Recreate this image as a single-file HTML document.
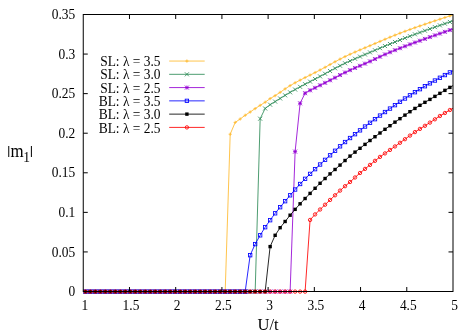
<!DOCTYPE html>
<html><head><meta charset="utf-8"><title>plot</title>
<style>
html,body{margin:0;padding:0;background:#fff;}
svg{display:block;will-change:transform}
text{font-family:"Liberation Serif",serif;font-size:14.3px;fill:#000}
</style></head>
<body>
<svg width="464" height="334" viewBox="0 0 464 334">
<rect width="464" height="334" fill="#fff"/>
<defs><clipPath id="clip"><rect x="83.25" y="14.5" width="369.75" height="280.0"/></clipPath></defs>
<g clip-path="url(#clip)" stroke-width="0.85">
<path d="M85.40 291.60 L90.39 291.60 L95.39 291.60 L100.38 291.60 L105.37 291.60 L110.37 291.60 L115.36 291.60 L120.35 291.60 L125.34 291.60 L130.34 291.60 L135.33 291.60 L140.32 291.60 L145.32 291.60 L150.31 291.60 L155.30 291.60 L160.30 291.60 L165.29 291.60 L170.28 291.60 L175.27 291.60 L180.27 291.60 L185.26 291.60 L190.25 291.60 L195.25 291.60 L200.24 291.60 L205.23 291.60 L210.23 291.60 L215.22 291.60 L220.21 291.60 L225.20 291.60 L230.20 134.20 L235.19 122.40 L240.18 119.00 L245.18 115.25 L250.17 112.00 L255.16 108.60 L260.16 105.35 L265.15 102.20 L270.14 98.60 L275.13 95.66 L280.13 92.35 L285.12 88.88 L290.11 85.65 L295.11 82.80 L300.10 80.13 L305.09 77.58 L310.09 75.09 L315.08 72.58 L320.07 70.00 L325.06 67.30 L330.06 64.53 L335.05 61.78 L340.04 59.11 L345.04 56.60 L350.03 54.27 L355.02 52.06 L360.01 49.92 L365.01 47.81 L370.00 45.70 L374.99 43.56 L379.99 41.41 L384.98 39.28 L389.97 37.19 L394.97 35.15 L399.96 33.20 L404.95 31.32 L409.95 29.49 L414.94 27.70 L419.93 25.95 L424.92 24.22 L429.92 22.53 L434.91 20.85 L439.90 19.20 L444.90 17.55 L449.89 15.90 L454.88 14.30" stroke="#FFB92D" fill="none" stroke-linejoin="round"/>
<path d="M83.80 291.60H87.00M85.40 290.00V293.20" stroke="#FFB92D" fill="none"/>
<path d="M88.79 291.60H91.99M90.39 290.00V293.20" stroke="#FFB92D" fill="none"/>
<path d="M93.79 291.60H96.99M95.39 290.00V293.20" stroke="#FFB92D" fill="none"/>
<path d="M98.78 291.60H101.98M100.38 290.00V293.20" stroke="#FFB92D" fill="none"/>
<path d="M103.77 291.60H106.97M105.37 290.00V293.20" stroke="#FFB92D" fill="none"/>
<path d="M108.77 291.60H111.97M110.37 290.00V293.20" stroke="#FFB92D" fill="none"/>
<path d="M113.76 291.60H116.96M115.36 290.00V293.20" stroke="#FFB92D" fill="none"/>
<path d="M118.75 291.60H121.95M120.35 290.00V293.20" stroke="#FFB92D" fill="none"/>
<path d="M123.74 291.60H126.94M125.34 290.00V293.20" stroke="#FFB92D" fill="none"/>
<path d="M128.74 291.60H131.94M130.34 290.00V293.20" stroke="#FFB92D" fill="none"/>
<path d="M133.73 291.60H136.93M135.33 290.00V293.20" stroke="#FFB92D" fill="none"/>
<path d="M138.72 291.60H141.92M140.32 290.00V293.20" stroke="#FFB92D" fill="none"/>
<path d="M143.72 291.60H146.92M145.32 290.00V293.20" stroke="#FFB92D" fill="none"/>
<path d="M148.71 291.60H151.91M150.31 290.00V293.20" stroke="#FFB92D" fill="none"/>
<path d="M153.70 291.60H156.90M155.30 290.00V293.20" stroke="#FFB92D" fill="none"/>
<path d="M158.70 291.60H161.90M160.30 290.00V293.20" stroke="#FFB92D" fill="none"/>
<path d="M163.69 291.60H166.89M165.29 290.00V293.20" stroke="#FFB92D" fill="none"/>
<path d="M168.68 291.60H171.88M170.28 290.00V293.20" stroke="#FFB92D" fill="none"/>
<path d="M173.67 291.60H176.87M175.27 290.00V293.20" stroke="#FFB92D" fill="none"/>
<path d="M178.67 291.60H181.87M180.27 290.00V293.20" stroke="#FFB92D" fill="none"/>
<path d="M183.66 291.60H186.86M185.26 290.00V293.20" stroke="#FFB92D" fill="none"/>
<path d="M188.65 291.60H191.85M190.25 290.00V293.20" stroke="#FFB92D" fill="none"/>
<path d="M193.65 291.60H196.85M195.25 290.00V293.20" stroke="#FFB92D" fill="none"/>
<path d="M198.64 291.60H201.84M200.24 290.00V293.20" stroke="#FFB92D" fill="none"/>
<path d="M203.63 291.60H206.83M205.23 290.00V293.20" stroke="#FFB92D" fill="none"/>
<path d="M208.63 291.60H211.83M210.23 290.00V293.20" stroke="#FFB92D" fill="none"/>
<path d="M213.62 291.60H216.82M215.22 290.00V293.20" stroke="#FFB92D" fill="none"/>
<path d="M218.61 291.60H221.81M220.21 290.00V293.20" stroke="#FFB92D" fill="none"/>
<path d="M223.60 291.60H226.80M225.20 290.00V293.20" stroke="#FFB92D" fill="none"/>
<path d="M228.60 134.20H231.80M230.20 132.60V135.80" stroke="#FFB92D" fill="none"/>
<path d="M233.59 122.40H236.79M235.19 120.80V124.00" stroke="#FFB92D" fill="none"/>
<path d="M238.58 119.00H241.78M240.18 117.40V120.60" stroke="#FFB92D" fill="none"/>
<path d="M243.58 115.25H246.78M245.18 113.65V116.85" stroke="#FFB92D" fill="none"/>
<path d="M248.57 112.00H251.77M250.17 110.40V113.60" stroke="#FFB92D" fill="none"/>
<path d="M253.56 108.60H256.76M255.16 107.00V110.20" stroke="#FFB92D" fill="none"/>
<path d="M258.56 105.35H261.76M260.16 103.75V106.95" stroke="#FFB92D" fill="none"/>
<path d="M263.55 102.20H266.75M265.15 100.60V103.80" stroke="#FFB92D" fill="none"/>
<path d="M268.54 98.60H271.74M270.14 97.00V100.20" stroke="#FFB92D" fill="none"/>
<path d="M273.53 95.66H276.73M275.13 94.06V97.26" stroke="#FFB92D" fill="none"/>
<path d="M278.53 92.35H281.73M280.13 90.75V93.95" stroke="#FFB92D" fill="none"/>
<path d="M283.52 88.88H286.72M285.12 87.28V90.48" stroke="#FFB92D" fill="none"/>
<path d="M288.51 85.65H291.71M290.11 84.05V87.25" stroke="#FFB92D" fill="none"/>
<path d="M293.51 82.80H296.71M295.11 81.20V84.40" stroke="#FFB92D" fill="none"/>
<path d="M298.50 80.13H301.70M300.10 78.53V81.73" stroke="#FFB92D" fill="none"/>
<path d="M303.49 77.58H306.69M305.09 75.98V79.18" stroke="#FFB92D" fill="none"/>
<path d="M308.49 75.09H311.69M310.09 73.49V76.69" stroke="#FFB92D" fill="none"/>
<path d="M313.48 72.58H316.68M315.08 70.98V74.18" stroke="#FFB92D" fill="none"/>
<path d="M318.47 70.00H321.67M320.07 68.40V71.60" stroke="#FFB92D" fill="none"/>
<path d="M323.46 67.30H326.66M325.06 65.70V68.90" stroke="#FFB92D" fill="none"/>
<path d="M328.46 64.53H331.66M330.06 62.93V66.13" stroke="#FFB92D" fill="none"/>
<path d="M333.45 61.78H336.65M335.05 60.18V63.38" stroke="#FFB92D" fill="none"/>
<path d="M338.44 59.11H341.64M340.04 57.51V60.71" stroke="#FFB92D" fill="none"/>
<path d="M343.44 56.60H346.64M345.04 55.00V58.20" stroke="#FFB92D" fill="none"/>
<path d="M348.43 54.27H351.63M350.03 52.67V55.87" stroke="#FFB92D" fill="none"/>
<path d="M353.42 52.06H356.62M355.02 50.46V53.66" stroke="#FFB92D" fill="none"/>
<path d="M358.41 49.92H361.62M360.01 48.32V51.52" stroke="#FFB92D" fill="none"/>
<path d="M363.41 47.81H366.61M365.01 46.21V49.41" stroke="#FFB92D" fill="none"/>
<path d="M368.40 45.70H371.60M370.00 44.10V47.30" stroke="#FFB92D" fill="none"/>
<path d="M373.39 43.56H376.59M374.99 41.96V45.16" stroke="#FFB92D" fill="none"/>
<path d="M378.39 41.41H381.59M379.99 39.81V43.01" stroke="#FFB92D" fill="none"/>
<path d="M383.38 39.28H386.58M384.98 37.68V40.88" stroke="#FFB92D" fill="none"/>
<path d="M388.37 37.19H391.57M389.97 35.59V38.79" stroke="#FFB92D" fill="none"/>
<path d="M393.37 35.15H396.57M394.97 33.55V36.75" stroke="#FFB92D" fill="none"/>
<path d="M398.36 33.20H401.56M399.96 31.60V34.80" stroke="#FFB92D" fill="none"/>
<path d="M403.35 31.32H406.55M404.95 29.72V32.92" stroke="#FFB92D" fill="none"/>
<path d="M408.35 29.49H411.55M409.95 27.89V31.09" stroke="#FFB92D" fill="none"/>
<path d="M413.34 27.70H416.54M414.94 26.10V29.30" stroke="#FFB92D" fill="none"/>
<path d="M418.33 25.95H421.53M419.93 24.35V27.55" stroke="#FFB92D" fill="none"/>
<path d="M423.32 24.22H426.52M424.92 22.62V25.82" stroke="#FFB92D" fill="none"/>
<path d="M428.32 22.53H431.52M429.92 20.93V24.13" stroke="#FFB92D" fill="none"/>
<path d="M433.31 20.85H436.51M434.91 19.25V22.45" stroke="#FFB92D" fill="none"/>
<path d="M438.30 19.20H441.50M439.90 17.60V20.80" stroke="#FFB92D" fill="none"/>
<path d="M443.30 17.55H446.50M444.90 15.95V19.15" stroke="#FFB92D" fill="none"/>
<path d="M448.29 15.90H451.49M449.89 14.30V17.50" stroke="#FFB92D" fill="none"/>
<path d="M85.40 291.60 L90.39 291.60 L95.39 291.60 L100.38 291.60 L105.37 291.60 L110.37 291.60 L115.36 291.60 L120.35 291.60 L125.34 291.60 L130.34 291.60 L135.33 291.60 L140.32 291.60 L145.32 291.60 L150.31 291.60 L155.30 291.60 L160.30 291.60 L165.29 291.60 L170.28 291.60 L175.27 291.60 L180.27 291.60 L185.26 291.60 L190.25 291.60 L195.25 291.60 L200.24 291.60 L205.23 291.60 L210.23 291.60 L215.22 291.60 L220.21 291.60 L225.20 291.60 L230.20 291.60 L235.19 291.60 L240.18 291.60 L245.18 291.60 L250.17 291.60 L255.16 291.60 L260.16 118.70 L265.15 108.50 L270.14 104.70 L275.13 101.60 L280.13 98.47 L285.12 95.34 L290.11 92.35 L295.11 89.54 L300.10 86.83 L305.09 84.20 L310.09 81.61 L315.08 79.02 L320.07 76.40 L325.06 73.72 L330.06 71.01 L335.05 68.32 L340.04 65.72 L345.04 63.25 L350.03 60.94 L355.02 58.74 L360.01 56.60 L365.01 54.50 L370.00 52.40 L374.99 50.28 L379.99 48.16 L384.98 46.06 L389.97 44.00 L394.97 41.97 L399.96 40.00 L404.95 38.08 L409.95 36.19 L414.94 34.33 L419.93 32.49 L424.92 30.68 L429.92 28.90 L434.91 27.13 L439.90 25.39 L444.90 23.66 L449.89 21.95 L454.88 20.30" stroke="#2E8B57" fill="none" stroke-linejoin="round"/>
<path d="M83.40 289.60L87.40 293.60M83.40 293.60L87.40 289.60" stroke="#2E8B57" fill="none"/>
<path d="M88.39 289.60L92.39 293.60M88.39 293.60L92.39 289.60" stroke="#2E8B57" fill="none"/>
<path d="M93.39 289.60L97.39 293.60M93.39 293.60L97.39 289.60" stroke="#2E8B57" fill="none"/>
<path d="M98.38 289.60L102.38 293.60M98.38 293.60L102.38 289.60" stroke="#2E8B57" fill="none"/>
<path d="M103.37 289.60L107.37 293.60M103.37 293.60L107.37 289.60" stroke="#2E8B57" fill="none"/>
<path d="M108.37 289.60L112.37 293.60M108.37 293.60L112.37 289.60" stroke="#2E8B57" fill="none"/>
<path d="M113.36 289.60L117.36 293.60M113.36 293.60L117.36 289.60" stroke="#2E8B57" fill="none"/>
<path d="M118.35 289.60L122.35 293.60M118.35 293.60L122.35 289.60" stroke="#2E8B57" fill="none"/>
<path d="M123.34 289.60L127.34 293.60M123.34 293.60L127.34 289.60" stroke="#2E8B57" fill="none"/>
<path d="M128.34 289.60L132.34 293.60M128.34 293.60L132.34 289.60" stroke="#2E8B57" fill="none"/>
<path d="M133.33 289.60L137.33 293.60M133.33 293.60L137.33 289.60" stroke="#2E8B57" fill="none"/>
<path d="M138.32 289.60L142.32 293.60M138.32 293.60L142.32 289.60" stroke="#2E8B57" fill="none"/>
<path d="M143.32 289.60L147.32 293.60M143.32 293.60L147.32 289.60" stroke="#2E8B57" fill="none"/>
<path d="M148.31 289.60L152.31 293.60M148.31 293.60L152.31 289.60" stroke="#2E8B57" fill="none"/>
<path d="M153.30 289.60L157.30 293.60M153.30 293.60L157.30 289.60" stroke="#2E8B57" fill="none"/>
<path d="M158.30 289.60L162.30 293.60M158.30 293.60L162.30 289.60" stroke="#2E8B57" fill="none"/>
<path d="M163.29 289.60L167.29 293.60M163.29 293.60L167.29 289.60" stroke="#2E8B57" fill="none"/>
<path d="M168.28 289.60L172.28 293.60M168.28 293.60L172.28 289.60" stroke="#2E8B57" fill="none"/>
<path d="M173.27 289.60L177.27 293.60M173.27 293.60L177.27 289.60" stroke="#2E8B57" fill="none"/>
<path d="M178.27 289.60L182.27 293.60M178.27 293.60L182.27 289.60" stroke="#2E8B57" fill="none"/>
<path d="M183.26 289.60L187.26 293.60M183.26 293.60L187.26 289.60" stroke="#2E8B57" fill="none"/>
<path d="M188.25 289.60L192.25 293.60M188.25 293.60L192.25 289.60" stroke="#2E8B57" fill="none"/>
<path d="M193.25 289.60L197.25 293.60M193.25 293.60L197.25 289.60" stroke="#2E8B57" fill="none"/>
<path d="M198.24 289.60L202.24 293.60M198.24 293.60L202.24 289.60" stroke="#2E8B57" fill="none"/>
<path d="M203.23 289.60L207.23 293.60M203.23 293.60L207.23 289.60" stroke="#2E8B57" fill="none"/>
<path d="M208.23 289.60L212.23 293.60M208.23 293.60L212.23 289.60" stroke="#2E8B57" fill="none"/>
<path d="M213.22 289.60L217.22 293.60M213.22 293.60L217.22 289.60" stroke="#2E8B57" fill="none"/>
<path d="M218.21 289.60L222.21 293.60M218.21 293.60L222.21 289.60" stroke="#2E8B57" fill="none"/>
<path d="M223.20 289.60L227.20 293.60M223.20 293.60L227.20 289.60" stroke="#2E8B57" fill="none"/>
<path d="M228.20 289.60L232.20 293.60M228.20 293.60L232.20 289.60" stroke="#2E8B57" fill="none"/>
<path d="M233.19 289.60L237.19 293.60M233.19 293.60L237.19 289.60" stroke="#2E8B57" fill="none"/>
<path d="M238.18 289.60L242.18 293.60M238.18 293.60L242.18 289.60" stroke="#2E8B57" fill="none"/>
<path d="M243.18 289.60L247.18 293.60M243.18 293.60L247.18 289.60" stroke="#2E8B57" fill="none"/>
<path d="M248.17 289.60L252.17 293.60M248.17 293.60L252.17 289.60" stroke="#2E8B57" fill="none"/>
<path d="M253.16 289.60L257.16 293.60M253.16 293.60L257.16 289.60" stroke="#2E8B57" fill="none"/>
<path d="M258.16 116.70L262.16 120.70M258.16 120.70L262.16 116.70" stroke="#2E8B57" fill="none"/>
<path d="M263.15 106.50L267.15 110.50M263.15 110.50L267.15 106.50" stroke="#2E8B57" fill="none"/>
<path d="M268.14 102.70L272.14 106.70M268.14 106.70L272.14 102.70" stroke="#2E8B57" fill="none"/>
<path d="M273.13 99.60L277.13 103.60M273.13 103.60L277.13 99.60" stroke="#2E8B57" fill="none"/>
<path d="M278.13 96.47L282.13 100.47M278.13 100.47L282.13 96.47" stroke="#2E8B57" fill="none"/>
<path d="M283.12 93.34L287.12 97.34M283.12 97.34L287.12 93.34" stroke="#2E8B57" fill="none"/>
<path d="M288.11 90.35L292.11 94.35M288.11 94.35L292.11 90.35" stroke="#2E8B57" fill="none"/>
<path d="M293.11 87.54L297.11 91.54M293.11 91.54L297.11 87.54" stroke="#2E8B57" fill="none"/>
<path d="M298.10 84.83L302.10 88.83M298.10 88.83L302.10 84.83" stroke="#2E8B57" fill="none"/>
<path d="M303.09 82.20L307.09 86.20M303.09 86.20L307.09 82.20" stroke="#2E8B57" fill="none"/>
<path d="M308.09 79.61L312.09 83.61M308.09 83.61L312.09 79.61" stroke="#2E8B57" fill="none"/>
<path d="M313.08 77.02L317.08 81.02M313.08 81.02L317.08 77.02" stroke="#2E8B57" fill="none"/>
<path d="M318.07 74.40L322.07 78.40M318.07 78.40L322.07 74.40" stroke="#2E8B57" fill="none"/>
<path d="M323.06 71.72L327.06 75.72M323.06 75.72L327.06 71.72" stroke="#2E8B57" fill="none"/>
<path d="M328.06 69.01L332.06 73.01M328.06 73.01L332.06 69.01" stroke="#2E8B57" fill="none"/>
<path d="M333.05 66.32L337.05 70.32M333.05 70.32L337.05 66.32" stroke="#2E8B57" fill="none"/>
<path d="M338.04 63.72L342.04 67.72M338.04 67.72L342.04 63.72" stroke="#2E8B57" fill="none"/>
<path d="M343.04 61.25L347.04 65.25M343.04 65.25L347.04 61.25" stroke="#2E8B57" fill="none"/>
<path d="M348.03 58.94L352.03 62.94M348.03 62.94L352.03 58.94" stroke="#2E8B57" fill="none"/>
<path d="M353.02 56.74L357.02 60.74M353.02 60.74L357.02 56.74" stroke="#2E8B57" fill="none"/>
<path d="M358.01 54.60L362.01 58.60M358.01 58.60L362.01 54.60" stroke="#2E8B57" fill="none"/>
<path d="M363.01 52.50L367.01 56.50M363.01 56.50L367.01 52.50" stroke="#2E8B57" fill="none"/>
<path d="M368.00 50.40L372.00 54.40M368.00 54.40L372.00 50.40" stroke="#2E8B57" fill="none"/>
<path d="M372.99 48.28L376.99 52.28M372.99 52.28L376.99 48.28" stroke="#2E8B57" fill="none"/>
<path d="M377.99 46.16L381.99 50.16M377.99 50.16L381.99 46.16" stroke="#2E8B57" fill="none"/>
<path d="M382.98 44.06L386.98 48.06M382.98 48.06L386.98 44.06" stroke="#2E8B57" fill="none"/>
<path d="M387.97 42.00L391.97 46.00M387.97 46.00L391.97 42.00" stroke="#2E8B57" fill="none"/>
<path d="M392.97 39.97L396.97 43.97M392.97 43.97L396.97 39.97" stroke="#2E8B57" fill="none"/>
<path d="M397.96 38.00L401.96 42.00M397.96 42.00L401.96 38.00" stroke="#2E8B57" fill="none"/>
<path d="M402.95 36.08L406.95 40.08M402.95 40.08L406.95 36.08" stroke="#2E8B57" fill="none"/>
<path d="M407.95 34.19L411.95 38.19M407.95 38.19L411.95 34.19" stroke="#2E8B57" fill="none"/>
<path d="M412.94 32.33L416.94 36.33M412.94 36.33L416.94 32.33" stroke="#2E8B57" fill="none"/>
<path d="M417.93 30.49L421.93 34.49M417.93 34.49L421.93 30.49" stroke="#2E8B57" fill="none"/>
<path d="M422.92 28.68L426.92 32.68M422.92 32.68L426.92 28.68" stroke="#2E8B57" fill="none"/>
<path d="M427.92 26.90L431.92 30.90M427.92 30.90L431.92 26.90" stroke="#2E8B57" fill="none"/>
<path d="M432.91 25.13L436.91 29.13M432.91 29.13L436.91 25.13" stroke="#2E8B57" fill="none"/>
<path d="M437.90 23.39L441.90 27.39M437.90 27.39L441.90 23.39" stroke="#2E8B57" fill="none"/>
<path d="M442.90 21.66L446.90 25.66M442.90 25.66L446.90 21.66" stroke="#2E8B57" fill="none"/>
<path d="M447.89 19.95L451.89 23.95M447.89 23.95L451.89 19.95" stroke="#2E8B57" fill="none"/>
<path d="M85.40 291.60 L90.39 291.60 L95.39 291.60 L100.38 291.60 L105.37 291.60 L110.37 291.60 L115.36 291.60 L120.35 291.60 L125.34 291.60 L130.34 291.60 L135.33 291.60 L140.32 291.60 L145.32 291.60 L150.31 291.60 L155.30 291.60 L160.30 291.60 L165.29 291.60 L170.28 291.60 L175.27 291.60 L180.27 291.60 L185.26 291.60 L190.25 291.60 L195.25 291.60 L200.24 291.60 L205.23 291.60 L210.23 291.60 L215.22 291.60 L220.21 291.60 L225.20 291.60 L230.20 291.60 L235.19 291.60 L240.18 291.60 L245.18 291.60 L250.17 291.60 L255.16 291.60 L260.16 291.60 L265.15 291.60 L270.14 291.60 L275.13 291.60 L280.13 291.60 L285.12 291.60 L290.11 291.60 L295.11 151.60 L300.10 103.30 L305.09 93.20 L310.09 90.30 L315.08 87.80 L320.07 85.30 L325.06 82.80 L330.06 80.26 L335.05 77.70 L340.04 75.06 L345.04 72.50 L350.03 70.16 L355.02 67.94 L360.01 65.79 L365.01 63.63 L370.00 61.40 L374.99 59.06 L379.99 56.68 L384.98 54.40 L389.97 52.25 L394.97 50.19 L399.96 48.20 L404.95 46.27 L409.95 44.37 L414.94 42.51 L419.93 40.69 L424.92 38.88 L429.92 37.10 L434.91 35.33 L439.90 33.58 L444.90 31.84 L449.89 30.10 L454.88 28.40" stroke="#9400D3" fill="none" stroke-linejoin="round"/>
<path d="M83.40 291.60H87.40M85.40 289.60V293.60M83.40 289.60L87.40 293.60M83.40 293.60L87.40 289.60" stroke="#9400D3" fill="none"/>
<path d="M88.39 291.60H92.39M90.39 289.60V293.60M88.39 289.60L92.39 293.60M88.39 293.60L92.39 289.60" stroke="#9400D3" fill="none"/>
<path d="M93.39 291.60H97.39M95.39 289.60V293.60M93.39 289.60L97.39 293.60M93.39 293.60L97.39 289.60" stroke="#9400D3" fill="none"/>
<path d="M98.38 291.60H102.38M100.38 289.60V293.60M98.38 289.60L102.38 293.60M98.38 293.60L102.38 289.60" stroke="#9400D3" fill="none"/>
<path d="M103.37 291.60H107.37M105.37 289.60V293.60M103.37 289.60L107.37 293.60M103.37 293.60L107.37 289.60" stroke="#9400D3" fill="none"/>
<path d="M108.37 291.60H112.37M110.37 289.60V293.60M108.37 289.60L112.37 293.60M108.37 293.60L112.37 289.60" stroke="#9400D3" fill="none"/>
<path d="M113.36 291.60H117.36M115.36 289.60V293.60M113.36 289.60L117.36 293.60M113.36 293.60L117.36 289.60" stroke="#9400D3" fill="none"/>
<path d="M118.35 291.60H122.35M120.35 289.60V293.60M118.35 289.60L122.35 293.60M118.35 293.60L122.35 289.60" stroke="#9400D3" fill="none"/>
<path d="M123.34 291.60H127.34M125.34 289.60V293.60M123.34 289.60L127.34 293.60M123.34 293.60L127.34 289.60" stroke="#9400D3" fill="none"/>
<path d="M128.34 291.60H132.34M130.34 289.60V293.60M128.34 289.60L132.34 293.60M128.34 293.60L132.34 289.60" stroke="#9400D3" fill="none"/>
<path d="M133.33 291.60H137.33M135.33 289.60V293.60M133.33 289.60L137.33 293.60M133.33 293.60L137.33 289.60" stroke="#9400D3" fill="none"/>
<path d="M138.32 291.60H142.32M140.32 289.60V293.60M138.32 289.60L142.32 293.60M138.32 293.60L142.32 289.60" stroke="#9400D3" fill="none"/>
<path d="M143.32 291.60H147.32M145.32 289.60V293.60M143.32 289.60L147.32 293.60M143.32 293.60L147.32 289.60" stroke="#9400D3" fill="none"/>
<path d="M148.31 291.60H152.31M150.31 289.60V293.60M148.31 289.60L152.31 293.60M148.31 293.60L152.31 289.60" stroke="#9400D3" fill="none"/>
<path d="M153.30 291.60H157.30M155.30 289.60V293.60M153.30 289.60L157.30 293.60M153.30 293.60L157.30 289.60" stroke="#9400D3" fill="none"/>
<path d="M158.30 291.60H162.30M160.30 289.60V293.60M158.30 289.60L162.30 293.60M158.30 293.60L162.30 289.60" stroke="#9400D3" fill="none"/>
<path d="M163.29 291.60H167.29M165.29 289.60V293.60M163.29 289.60L167.29 293.60M163.29 293.60L167.29 289.60" stroke="#9400D3" fill="none"/>
<path d="M168.28 291.60H172.28M170.28 289.60V293.60M168.28 289.60L172.28 293.60M168.28 293.60L172.28 289.60" stroke="#9400D3" fill="none"/>
<path d="M173.27 291.60H177.27M175.27 289.60V293.60M173.27 289.60L177.27 293.60M173.27 293.60L177.27 289.60" stroke="#9400D3" fill="none"/>
<path d="M178.27 291.60H182.27M180.27 289.60V293.60M178.27 289.60L182.27 293.60M178.27 293.60L182.27 289.60" stroke="#9400D3" fill="none"/>
<path d="M183.26 291.60H187.26M185.26 289.60V293.60M183.26 289.60L187.26 293.60M183.26 293.60L187.26 289.60" stroke="#9400D3" fill="none"/>
<path d="M188.25 291.60H192.25M190.25 289.60V293.60M188.25 289.60L192.25 293.60M188.25 293.60L192.25 289.60" stroke="#9400D3" fill="none"/>
<path d="M193.25 291.60H197.25M195.25 289.60V293.60M193.25 289.60L197.25 293.60M193.25 293.60L197.25 289.60" stroke="#9400D3" fill="none"/>
<path d="M198.24 291.60H202.24M200.24 289.60V293.60M198.24 289.60L202.24 293.60M198.24 293.60L202.24 289.60" stroke="#9400D3" fill="none"/>
<path d="M203.23 291.60H207.23M205.23 289.60V293.60M203.23 289.60L207.23 293.60M203.23 293.60L207.23 289.60" stroke="#9400D3" fill="none"/>
<path d="M208.23 291.60H212.23M210.23 289.60V293.60M208.23 289.60L212.23 293.60M208.23 293.60L212.23 289.60" stroke="#9400D3" fill="none"/>
<path d="M213.22 291.60H217.22M215.22 289.60V293.60M213.22 289.60L217.22 293.60M213.22 293.60L217.22 289.60" stroke="#9400D3" fill="none"/>
<path d="M218.21 291.60H222.21M220.21 289.60V293.60M218.21 289.60L222.21 293.60M218.21 293.60L222.21 289.60" stroke="#9400D3" fill="none"/>
<path d="M223.20 291.60H227.20M225.20 289.60V293.60M223.20 289.60L227.20 293.60M223.20 293.60L227.20 289.60" stroke="#9400D3" fill="none"/>
<path d="M228.20 291.60H232.20M230.20 289.60V293.60M228.20 289.60L232.20 293.60M228.20 293.60L232.20 289.60" stroke="#9400D3" fill="none"/>
<path d="M233.19 291.60H237.19M235.19 289.60V293.60M233.19 289.60L237.19 293.60M233.19 293.60L237.19 289.60" stroke="#9400D3" fill="none"/>
<path d="M238.18 291.60H242.18M240.18 289.60V293.60M238.18 289.60L242.18 293.60M238.18 293.60L242.18 289.60" stroke="#9400D3" fill="none"/>
<path d="M243.18 291.60H247.18M245.18 289.60V293.60M243.18 289.60L247.18 293.60M243.18 293.60L247.18 289.60" stroke="#9400D3" fill="none"/>
<path d="M248.17 291.60H252.17M250.17 289.60V293.60M248.17 289.60L252.17 293.60M248.17 293.60L252.17 289.60" stroke="#9400D3" fill="none"/>
<path d="M253.16 291.60H257.16M255.16 289.60V293.60M253.16 289.60L257.16 293.60M253.16 293.60L257.16 289.60" stroke="#9400D3" fill="none"/>
<path d="M258.16 291.60H262.16M260.16 289.60V293.60M258.16 289.60L262.16 293.60M258.16 293.60L262.16 289.60" stroke="#9400D3" fill="none"/>
<path d="M263.15 291.60H267.15M265.15 289.60V293.60M263.15 289.60L267.15 293.60M263.15 293.60L267.15 289.60" stroke="#9400D3" fill="none"/>
<path d="M268.14 291.60H272.14M270.14 289.60V293.60M268.14 289.60L272.14 293.60M268.14 293.60L272.14 289.60" stroke="#9400D3" fill="none"/>
<path d="M273.13 291.60H277.13M275.13 289.60V293.60M273.13 289.60L277.13 293.60M273.13 293.60L277.13 289.60" stroke="#9400D3" fill="none"/>
<path d="M278.13 291.60H282.13M280.13 289.60V293.60M278.13 289.60L282.13 293.60M278.13 293.60L282.13 289.60" stroke="#9400D3" fill="none"/>
<path d="M283.12 291.60H287.12M285.12 289.60V293.60M283.12 289.60L287.12 293.60M283.12 293.60L287.12 289.60" stroke="#9400D3" fill="none"/>
<path d="M288.11 291.60H292.11M290.11 289.60V293.60M288.11 289.60L292.11 293.60M288.11 293.60L292.11 289.60" stroke="#9400D3" fill="none"/>
<path d="M293.11 151.60H297.11M295.11 149.60V153.60M293.11 149.60L297.11 153.60M293.11 153.60L297.11 149.60" stroke="#9400D3" fill="none"/>
<path d="M298.10 103.30H302.10M300.10 101.30V105.30M298.10 101.30L302.10 105.30M298.10 105.30L302.10 101.30" stroke="#9400D3" fill="none"/>
<path d="M303.09 93.20H307.09M305.09 91.20V95.20M303.09 91.20L307.09 95.20M303.09 95.20L307.09 91.20" stroke="#9400D3" fill="none"/>
<path d="M308.09 90.30H312.09M310.09 88.30V92.30M308.09 88.30L312.09 92.30M308.09 92.30L312.09 88.30" stroke="#9400D3" fill="none"/>
<path d="M313.08 87.80H317.08M315.08 85.80V89.80M313.08 85.80L317.08 89.80M313.08 89.80L317.08 85.80" stroke="#9400D3" fill="none"/>
<path d="M318.07 85.30H322.07M320.07 83.30V87.30M318.07 83.30L322.07 87.30M318.07 87.30L322.07 83.30" stroke="#9400D3" fill="none"/>
<path d="M323.06 82.80H327.06M325.06 80.80V84.80M323.06 80.80L327.06 84.80M323.06 84.80L327.06 80.80" stroke="#9400D3" fill="none"/>
<path d="M328.06 80.26H332.06M330.06 78.26V82.26M328.06 78.26L332.06 82.26M328.06 82.26L332.06 78.26" stroke="#9400D3" fill="none"/>
<path d="M333.05 77.70H337.05M335.05 75.70V79.70M333.05 75.70L337.05 79.70M333.05 79.70L337.05 75.70" stroke="#9400D3" fill="none"/>
<path d="M338.04 75.06H342.04M340.04 73.06V77.06M338.04 73.06L342.04 77.06M338.04 77.06L342.04 73.06" stroke="#9400D3" fill="none"/>
<path d="M343.04 72.50H347.04M345.04 70.50V74.50M343.04 70.50L347.04 74.50M343.04 74.50L347.04 70.50" stroke="#9400D3" fill="none"/>
<path d="M348.03 70.16H352.03M350.03 68.16V72.16M348.03 68.16L352.03 72.16M348.03 72.16L352.03 68.16" stroke="#9400D3" fill="none"/>
<path d="M353.02 67.94H357.02M355.02 65.94V69.94M353.02 65.94L357.02 69.94M353.02 69.94L357.02 65.94" stroke="#9400D3" fill="none"/>
<path d="M358.01 65.79H362.01M360.01 63.79V67.79M358.01 63.79L362.01 67.79M358.01 67.79L362.01 63.79" stroke="#9400D3" fill="none"/>
<path d="M363.01 63.63H367.01M365.01 61.63V65.63M363.01 61.63L367.01 65.63M363.01 65.63L367.01 61.63" stroke="#9400D3" fill="none"/>
<path d="M368.00 61.40H372.00M370.00 59.40V63.40M368.00 59.40L372.00 63.40M368.00 63.40L372.00 59.40" stroke="#9400D3" fill="none"/>
<path d="M372.99 59.06H376.99M374.99 57.06V61.06M372.99 57.06L376.99 61.06M372.99 61.06L376.99 57.06" stroke="#9400D3" fill="none"/>
<path d="M377.99 56.68H381.99M379.99 54.68V58.68M377.99 54.68L381.99 58.68M377.99 58.68L381.99 54.68" stroke="#9400D3" fill="none"/>
<path d="M382.98 54.40H386.98M384.98 52.40V56.40M382.98 52.40L386.98 56.40M382.98 56.40L386.98 52.40" stroke="#9400D3" fill="none"/>
<path d="M387.97 52.25H391.97M389.97 50.25V54.25M387.97 50.25L391.97 54.25M387.97 54.25L391.97 50.25" stroke="#9400D3" fill="none"/>
<path d="M392.97 50.19H396.97M394.97 48.19V52.19M392.97 48.19L396.97 52.19M392.97 52.19L396.97 48.19" stroke="#9400D3" fill="none"/>
<path d="M397.96 48.20H401.96M399.96 46.20V50.20M397.96 46.20L401.96 50.20M397.96 50.20L401.96 46.20" stroke="#9400D3" fill="none"/>
<path d="M402.95 46.27H406.95M404.95 44.27V48.27M402.95 44.27L406.95 48.27M402.95 48.27L406.95 44.27" stroke="#9400D3" fill="none"/>
<path d="M407.95 44.37H411.95M409.95 42.37V46.37M407.95 42.37L411.95 46.37M407.95 46.37L411.95 42.37" stroke="#9400D3" fill="none"/>
<path d="M412.94 42.51H416.94M414.94 40.51V44.51M412.94 40.51L416.94 44.51M412.94 44.51L416.94 40.51" stroke="#9400D3" fill="none"/>
<path d="M417.93 40.69H421.93M419.93 38.69V42.69M417.93 38.69L421.93 42.69M417.93 42.69L421.93 38.69" stroke="#9400D3" fill="none"/>
<path d="M422.92 38.88H426.92M424.92 36.88V40.88M422.92 36.88L426.92 40.88M422.92 40.88L426.92 36.88" stroke="#9400D3" fill="none"/>
<path d="M427.92 37.10H431.92M429.92 35.10V39.10M427.92 35.10L431.92 39.10M427.92 39.10L431.92 35.10" stroke="#9400D3" fill="none"/>
<path d="M432.91 35.33H436.91M434.91 33.33V37.33M432.91 33.33L436.91 37.33M432.91 37.33L436.91 33.33" stroke="#9400D3" fill="none"/>
<path d="M437.90 33.58H441.90M439.90 31.58V35.58M437.90 31.58L441.90 35.58M437.90 35.58L441.90 31.58" stroke="#9400D3" fill="none"/>
<path d="M442.90 31.84H446.90M444.90 29.84V33.84M442.90 29.84L446.90 33.84M442.90 33.84L446.90 29.84" stroke="#9400D3" fill="none"/>
<path d="M447.89 30.10H451.89M449.89 28.10V32.10M447.89 28.10L451.89 32.10M447.89 32.10L451.89 28.10" stroke="#9400D3" fill="none"/>
<path d="M85.40 291.60 L90.39 291.60 L95.39 291.60 L100.38 291.60 L105.37 291.60 L110.37 291.60 L115.36 291.60 L120.35 291.60 L125.34 291.60 L130.34 291.60 L135.33 291.60 L140.32 291.60 L145.32 291.60 L150.31 291.60 L155.30 291.60 L160.30 291.60 L165.29 291.60 L170.28 291.60 L175.27 291.60 L180.27 291.60 L185.26 291.60 L190.25 291.60 L195.25 291.60 L200.24 291.60 L205.23 291.60 L210.23 291.60 L215.22 291.60 L220.21 291.60 L225.20 291.60 L230.20 291.60 L235.19 291.60 L240.18 291.60 L245.18 291.60 L250.17 255.20 L255.16 244.10 L260.16 235.30 L265.15 227.20 L270.14 220.20 L275.13 213.30 L280.13 207.20 L285.12 201.19 L290.11 195.30 L295.11 189.53 L300.10 184.00 L305.09 178.83 L310.09 173.90 L315.08 169.15 L320.07 164.50 L325.06 159.87 L330.06 155.30 L335.05 150.78 L340.04 146.32 L345.04 142.05 L350.03 138.03 L355.02 134.17 L360.01 130.35 L365.01 126.53 L370.00 122.80 L374.99 119.17 L379.99 115.58 L384.98 112.05 L389.97 108.58 L394.97 105.16 L399.96 101.80 L404.95 98.51 L409.95 95.31 L414.94 92.20 L419.93 89.17 L424.92 86.23 L429.92 83.35 L434.91 80.54 L439.90 77.78 L444.90 75.07 L449.89 72.40 L454.88 69.80" stroke="#0000FF" fill="none" stroke-linejoin="round"/>
<rect x="83.70" y="289.90" width="3.40" height="3.40" stroke="#0000FF" fill="none"/>
<rect x="88.69" y="289.90" width="3.40" height="3.40" stroke="#0000FF" fill="none"/>
<rect x="93.69" y="289.90" width="3.40" height="3.40" stroke="#0000FF" fill="none"/>
<rect x="98.68" y="289.90" width="3.40" height="3.40" stroke="#0000FF" fill="none"/>
<rect x="103.67" y="289.90" width="3.40" height="3.40" stroke="#0000FF" fill="none"/>
<rect x="108.67" y="289.90" width="3.40" height="3.40" stroke="#0000FF" fill="none"/>
<rect x="113.66" y="289.90" width="3.40" height="3.40" stroke="#0000FF" fill="none"/>
<rect x="118.65" y="289.90" width="3.40" height="3.40" stroke="#0000FF" fill="none"/>
<rect x="123.64" y="289.90" width="3.40" height="3.40" stroke="#0000FF" fill="none"/>
<rect x="128.64" y="289.90" width="3.40" height="3.40" stroke="#0000FF" fill="none"/>
<rect x="133.63" y="289.90" width="3.40" height="3.40" stroke="#0000FF" fill="none"/>
<rect x="138.62" y="289.90" width="3.40" height="3.40" stroke="#0000FF" fill="none"/>
<rect x="143.62" y="289.90" width="3.40" height="3.40" stroke="#0000FF" fill="none"/>
<rect x="148.61" y="289.90" width="3.40" height="3.40" stroke="#0000FF" fill="none"/>
<rect x="153.60" y="289.90" width="3.40" height="3.40" stroke="#0000FF" fill="none"/>
<rect x="158.60" y="289.90" width="3.40" height="3.40" stroke="#0000FF" fill="none"/>
<rect x="163.59" y="289.90" width="3.40" height="3.40" stroke="#0000FF" fill="none"/>
<rect x="168.58" y="289.90" width="3.40" height="3.40" stroke="#0000FF" fill="none"/>
<rect x="173.57" y="289.90" width="3.40" height="3.40" stroke="#0000FF" fill="none"/>
<rect x="178.57" y="289.90" width="3.40" height="3.40" stroke="#0000FF" fill="none"/>
<rect x="183.56" y="289.90" width="3.40" height="3.40" stroke="#0000FF" fill="none"/>
<rect x="188.55" y="289.90" width="3.40" height="3.40" stroke="#0000FF" fill="none"/>
<rect x="193.55" y="289.90" width="3.40" height="3.40" stroke="#0000FF" fill="none"/>
<rect x="198.54" y="289.90" width="3.40" height="3.40" stroke="#0000FF" fill="none"/>
<rect x="203.53" y="289.90" width="3.40" height="3.40" stroke="#0000FF" fill="none"/>
<rect x="208.53" y="289.90" width="3.40" height="3.40" stroke="#0000FF" fill="none"/>
<rect x="213.52" y="289.90" width="3.40" height="3.40" stroke="#0000FF" fill="none"/>
<rect x="218.51" y="289.90" width="3.40" height="3.40" stroke="#0000FF" fill="none"/>
<rect x="223.50" y="289.90" width="3.40" height="3.40" stroke="#0000FF" fill="none"/>
<rect x="228.50" y="289.90" width="3.40" height="3.40" stroke="#0000FF" fill="none"/>
<rect x="233.49" y="289.90" width="3.40" height="3.40" stroke="#0000FF" fill="none"/>
<rect x="238.48" y="289.90" width="3.40" height="3.40" stroke="#0000FF" fill="none"/>
<rect x="243.48" y="289.90" width="3.40" height="3.40" stroke="#0000FF" fill="none"/>
<rect x="248.47" y="253.50" width="3.40" height="3.40" stroke="#0000FF" fill="none"/>
<rect x="253.46" y="242.40" width="3.40" height="3.40" stroke="#0000FF" fill="none"/>
<rect x="258.46" y="233.60" width="3.40" height="3.40" stroke="#0000FF" fill="none"/>
<rect x="263.45" y="225.50" width="3.40" height="3.40" stroke="#0000FF" fill="none"/>
<rect x="268.44" y="218.50" width="3.40" height="3.40" stroke="#0000FF" fill="none"/>
<rect x="273.43" y="211.60" width="3.40" height="3.40" stroke="#0000FF" fill="none"/>
<rect x="278.43" y="205.50" width="3.40" height="3.40" stroke="#0000FF" fill="none"/>
<rect x="283.42" y="199.49" width="3.40" height="3.40" stroke="#0000FF" fill="none"/>
<rect x="288.41" y="193.60" width="3.40" height="3.40" stroke="#0000FF" fill="none"/>
<rect x="293.41" y="187.83" width="3.40" height="3.40" stroke="#0000FF" fill="none"/>
<rect x="298.40" y="182.30" width="3.40" height="3.40" stroke="#0000FF" fill="none"/>
<rect x="303.39" y="177.13" width="3.40" height="3.40" stroke="#0000FF" fill="none"/>
<rect x="308.39" y="172.20" width="3.40" height="3.40" stroke="#0000FF" fill="none"/>
<rect x="313.38" y="167.45" width="3.40" height="3.40" stroke="#0000FF" fill="none"/>
<rect x="318.37" y="162.80" width="3.40" height="3.40" stroke="#0000FF" fill="none"/>
<rect x="323.36" y="158.17" width="3.40" height="3.40" stroke="#0000FF" fill="none"/>
<rect x="328.36" y="153.60" width="3.40" height="3.40" stroke="#0000FF" fill="none"/>
<rect x="333.35" y="149.08" width="3.40" height="3.40" stroke="#0000FF" fill="none"/>
<rect x="338.34" y="144.62" width="3.40" height="3.40" stroke="#0000FF" fill="none"/>
<rect x="343.34" y="140.35" width="3.40" height="3.40" stroke="#0000FF" fill="none"/>
<rect x="348.33" y="136.33" width="3.40" height="3.40" stroke="#0000FF" fill="none"/>
<rect x="353.32" y="132.47" width="3.40" height="3.40" stroke="#0000FF" fill="none"/>
<rect x="358.31" y="128.65" width="3.40" height="3.40" stroke="#0000FF" fill="none"/>
<rect x="363.31" y="124.83" width="3.40" height="3.40" stroke="#0000FF" fill="none"/>
<rect x="368.30" y="121.10" width="3.40" height="3.40" stroke="#0000FF" fill="none"/>
<rect x="373.29" y="117.47" width="3.40" height="3.40" stroke="#0000FF" fill="none"/>
<rect x="378.29" y="113.88" width="3.40" height="3.40" stroke="#0000FF" fill="none"/>
<rect x="383.28" y="110.35" width="3.40" height="3.40" stroke="#0000FF" fill="none"/>
<rect x="388.27" y="106.88" width="3.40" height="3.40" stroke="#0000FF" fill="none"/>
<rect x="393.27" y="103.46" width="3.40" height="3.40" stroke="#0000FF" fill="none"/>
<rect x="398.26" y="100.10" width="3.40" height="3.40" stroke="#0000FF" fill="none"/>
<rect x="403.25" y="96.81" width="3.40" height="3.40" stroke="#0000FF" fill="none"/>
<rect x="408.25" y="93.61" width="3.40" height="3.40" stroke="#0000FF" fill="none"/>
<rect x="413.24" y="90.50" width="3.40" height="3.40" stroke="#0000FF" fill="none"/>
<rect x="418.23" y="87.47" width="3.40" height="3.40" stroke="#0000FF" fill="none"/>
<rect x="423.22" y="84.53" width="3.40" height="3.40" stroke="#0000FF" fill="none"/>
<rect x="428.22" y="81.65" width="3.40" height="3.40" stroke="#0000FF" fill="none"/>
<rect x="433.21" y="78.84" width="3.40" height="3.40" stroke="#0000FF" fill="none"/>
<rect x="438.20" y="76.08" width="3.40" height="3.40" stroke="#0000FF" fill="none"/>
<rect x="443.20" y="73.37" width="3.40" height="3.40" stroke="#0000FF" fill="none"/>
<rect x="448.19" y="70.70" width="3.40" height="3.40" stroke="#0000FF" fill="none"/>
<path d="M85.40 291.60 L90.39 291.60 L95.39 291.60 L100.38 291.60 L105.37 291.60 L110.37 291.60 L115.36 291.60 L120.35 291.60 L125.34 291.60 L130.34 291.60 L135.33 291.60 L140.32 291.60 L145.32 291.60 L150.31 291.60 L155.30 291.60 L160.30 291.60 L165.29 291.60 L170.28 291.60 L175.27 291.60 L180.27 291.60 L185.26 291.60 L190.25 291.60 L195.25 291.60 L200.24 291.60 L205.23 291.60 L210.23 291.60 L215.22 291.60 L220.21 291.60 L225.20 291.60 L230.20 291.60 L235.19 291.60 L240.18 291.60 L245.18 291.60 L250.17 291.60 L255.16 291.60 L260.16 291.60 L265.15 291.60 L270.14 246.60 L275.13 235.30 L280.13 227.70 L285.12 221.50 L290.11 215.20 L295.11 209.36 L300.10 203.80 L305.09 198.52 L310.09 193.40 L315.08 188.29 L320.07 183.30 L325.06 178.52 L330.06 173.90 L335.05 169.48 L340.04 165.10 L345.04 160.53 L350.03 156.10 L355.02 152.13 L360.01 148.30 L365.01 144.38 L370.00 140.50 L374.99 136.72 L379.99 133.00 L384.98 129.32 L389.97 125.70 L394.97 122.15 L399.96 118.65 L404.95 115.13 L409.95 111.70 L414.94 108.43 L419.93 105.30 L424.92 102.33 L429.92 99.40 L434.91 96.38 L439.90 93.35 L444.90 90.36 L449.89 87.40 L454.88 84.50" stroke="#000000" fill="none" stroke-linejoin="round"/>
<rect x="83.70" y="289.90" width="3.40" height="3.40" stroke="none" fill="#000000"/>
<rect x="88.69" y="289.90" width="3.40" height="3.40" stroke="none" fill="#000000"/>
<rect x="93.69" y="289.90" width="3.40" height="3.40" stroke="none" fill="#000000"/>
<rect x="98.68" y="289.90" width="3.40" height="3.40" stroke="none" fill="#000000"/>
<rect x="103.67" y="289.90" width="3.40" height="3.40" stroke="none" fill="#000000"/>
<rect x="108.67" y="289.90" width="3.40" height="3.40" stroke="none" fill="#000000"/>
<rect x="113.66" y="289.90" width="3.40" height="3.40" stroke="none" fill="#000000"/>
<rect x="118.65" y="289.90" width="3.40" height="3.40" stroke="none" fill="#000000"/>
<rect x="123.64" y="289.90" width="3.40" height="3.40" stroke="none" fill="#000000"/>
<rect x="128.64" y="289.90" width="3.40" height="3.40" stroke="none" fill="#000000"/>
<rect x="133.63" y="289.90" width="3.40" height="3.40" stroke="none" fill="#000000"/>
<rect x="138.62" y="289.90" width="3.40" height="3.40" stroke="none" fill="#000000"/>
<rect x="143.62" y="289.90" width="3.40" height="3.40" stroke="none" fill="#000000"/>
<rect x="148.61" y="289.90" width="3.40" height="3.40" stroke="none" fill="#000000"/>
<rect x="153.60" y="289.90" width="3.40" height="3.40" stroke="none" fill="#000000"/>
<rect x="158.60" y="289.90" width="3.40" height="3.40" stroke="none" fill="#000000"/>
<rect x="163.59" y="289.90" width="3.40" height="3.40" stroke="none" fill="#000000"/>
<rect x="168.58" y="289.90" width="3.40" height="3.40" stroke="none" fill="#000000"/>
<rect x="173.57" y="289.90" width="3.40" height="3.40" stroke="none" fill="#000000"/>
<rect x="178.57" y="289.90" width="3.40" height="3.40" stroke="none" fill="#000000"/>
<rect x="183.56" y="289.90" width="3.40" height="3.40" stroke="none" fill="#000000"/>
<rect x="188.55" y="289.90" width="3.40" height="3.40" stroke="none" fill="#000000"/>
<rect x="193.55" y="289.90" width="3.40" height="3.40" stroke="none" fill="#000000"/>
<rect x="198.54" y="289.90" width="3.40" height="3.40" stroke="none" fill="#000000"/>
<rect x="203.53" y="289.90" width="3.40" height="3.40" stroke="none" fill="#000000"/>
<rect x="208.53" y="289.90" width="3.40" height="3.40" stroke="none" fill="#000000"/>
<rect x="213.52" y="289.90" width="3.40" height="3.40" stroke="none" fill="#000000"/>
<rect x="218.51" y="289.90" width="3.40" height="3.40" stroke="none" fill="#000000"/>
<rect x="223.50" y="289.90" width="3.40" height="3.40" stroke="none" fill="#000000"/>
<rect x="228.50" y="289.90" width="3.40" height="3.40" stroke="none" fill="#000000"/>
<rect x="233.49" y="289.90" width="3.40" height="3.40" stroke="none" fill="#000000"/>
<rect x="238.48" y="289.90" width="3.40" height="3.40" stroke="none" fill="#000000"/>
<rect x="243.48" y="289.90" width="3.40" height="3.40" stroke="none" fill="#000000"/>
<rect x="248.47" y="289.90" width="3.40" height="3.40" stroke="none" fill="#000000"/>
<rect x="253.46" y="289.90" width="3.40" height="3.40" stroke="none" fill="#000000"/>
<rect x="258.46" y="289.90" width="3.40" height="3.40" stroke="none" fill="#000000"/>
<rect x="263.45" y="289.90" width="3.40" height="3.40" stroke="none" fill="#000000"/>
<rect x="268.44" y="244.90" width="3.40" height="3.40" stroke="none" fill="#000000"/>
<rect x="273.43" y="233.60" width="3.40" height="3.40" stroke="none" fill="#000000"/>
<rect x="278.43" y="226.00" width="3.40" height="3.40" stroke="none" fill="#000000"/>
<rect x="283.42" y="219.80" width="3.40" height="3.40" stroke="none" fill="#000000"/>
<rect x="288.41" y="213.50" width="3.40" height="3.40" stroke="none" fill="#000000"/>
<rect x="293.41" y="207.66" width="3.40" height="3.40" stroke="none" fill="#000000"/>
<rect x="298.40" y="202.10" width="3.40" height="3.40" stroke="none" fill="#000000"/>
<rect x="303.39" y="196.82" width="3.40" height="3.40" stroke="none" fill="#000000"/>
<rect x="308.39" y="191.70" width="3.40" height="3.40" stroke="none" fill="#000000"/>
<rect x="313.38" y="186.59" width="3.40" height="3.40" stroke="none" fill="#000000"/>
<rect x="318.37" y="181.60" width="3.40" height="3.40" stroke="none" fill="#000000"/>
<rect x="323.36" y="176.82" width="3.40" height="3.40" stroke="none" fill="#000000"/>
<rect x="328.36" y="172.20" width="3.40" height="3.40" stroke="none" fill="#000000"/>
<rect x="333.35" y="167.78" width="3.40" height="3.40" stroke="none" fill="#000000"/>
<rect x="338.34" y="163.40" width="3.40" height="3.40" stroke="none" fill="#000000"/>
<rect x="343.34" y="158.83" width="3.40" height="3.40" stroke="none" fill="#000000"/>
<rect x="348.33" y="154.40" width="3.40" height="3.40" stroke="none" fill="#000000"/>
<rect x="353.32" y="150.43" width="3.40" height="3.40" stroke="none" fill="#000000"/>
<rect x="358.31" y="146.60" width="3.40" height="3.40" stroke="none" fill="#000000"/>
<rect x="363.31" y="142.68" width="3.40" height="3.40" stroke="none" fill="#000000"/>
<rect x="368.30" y="138.80" width="3.40" height="3.40" stroke="none" fill="#000000"/>
<rect x="373.29" y="135.02" width="3.40" height="3.40" stroke="none" fill="#000000"/>
<rect x="378.29" y="131.30" width="3.40" height="3.40" stroke="none" fill="#000000"/>
<rect x="383.28" y="127.62" width="3.40" height="3.40" stroke="none" fill="#000000"/>
<rect x="388.27" y="124.00" width="3.40" height="3.40" stroke="none" fill="#000000"/>
<rect x="393.27" y="120.45" width="3.40" height="3.40" stroke="none" fill="#000000"/>
<rect x="398.26" y="116.95" width="3.40" height="3.40" stroke="none" fill="#000000"/>
<rect x="403.25" y="113.43" width="3.40" height="3.40" stroke="none" fill="#000000"/>
<rect x="408.25" y="110.00" width="3.40" height="3.40" stroke="none" fill="#000000"/>
<rect x="413.24" y="106.73" width="3.40" height="3.40" stroke="none" fill="#000000"/>
<rect x="418.23" y="103.60" width="3.40" height="3.40" stroke="none" fill="#000000"/>
<rect x="423.22" y="100.63" width="3.40" height="3.40" stroke="none" fill="#000000"/>
<rect x="428.22" y="97.70" width="3.40" height="3.40" stroke="none" fill="#000000"/>
<rect x="433.21" y="94.68" width="3.40" height="3.40" stroke="none" fill="#000000"/>
<rect x="438.20" y="91.65" width="3.40" height="3.40" stroke="none" fill="#000000"/>
<rect x="443.20" y="88.66" width="3.40" height="3.40" stroke="none" fill="#000000"/>
<rect x="448.19" y="85.70" width="3.40" height="3.40" stroke="none" fill="#000000"/>
<path d="M85.40 291.60 L90.39 291.60 L95.39 291.60 L100.38 291.60 L105.37 291.60 L110.37 291.60 L115.36 291.60 L120.35 291.60 L125.34 291.60 L130.34 291.60 L135.33 291.60 L140.32 291.60 L145.32 291.60 L150.31 291.60 L155.30 291.60 L160.30 291.60 L165.29 291.60 L170.28 291.60 L175.27 291.60 L180.27 291.60 L185.26 291.60 L190.25 291.60 L195.25 291.60 L200.24 291.60 L205.23 291.60 L210.23 291.60 L215.22 291.60 L220.21 291.60 L225.20 291.60 L230.20 291.60 L235.19 291.60 L240.18 291.60 L245.18 291.60 L250.17 291.60 L255.16 291.60 L260.16 291.60 L265.15 291.60 L270.14 291.60 L275.13 291.60 L280.13 291.60 L285.12 291.60 L290.11 291.60 L295.11 291.60 L300.10 291.60 L305.09 291.60 L310.09 219.94 L315.08 214.41 L320.07 209.50 L325.06 204.72 L330.06 199.94 L335.05 195.28 L340.04 190.60 L345.04 186.20 L350.03 182.00 L355.02 177.48 L360.01 173.00 L365.01 168.89 L370.00 164.90 L374.99 160.82 L379.99 156.90 L384.98 153.40 L389.97 149.95 L394.97 146.45 L399.96 142.80 L404.95 139.20 L409.95 135.60 L414.94 132.10 L419.93 128.90 L424.92 125.80 L429.92 122.60 L434.91 119.30 L439.90 116.00 L444.90 113.00 L449.89 110.00 L454.88 107.10" stroke="#FF0000" fill="none" stroke-linejoin="round"/>
<circle cx="85.40" cy="291.60" r="1.70" stroke="#FF0000" fill="none"/>
<circle cx="90.39" cy="291.60" r="1.70" stroke="#FF0000" fill="none"/>
<circle cx="95.39" cy="291.60" r="1.70" stroke="#FF0000" fill="none"/>
<circle cx="100.38" cy="291.60" r="1.70" stroke="#FF0000" fill="none"/>
<circle cx="105.37" cy="291.60" r="1.70" stroke="#FF0000" fill="none"/>
<circle cx="110.37" cy="291.60" r="1.70" stroke="#FF0000" fill="none"/>
<circle cx="115.36" cy="291.60" r="1.70" stroke="#FF0000" fill="none"/>
<circle cx="120.35" cy="291.60" r="1.70" stroke="#FF0000" fill="none"/>
<circle cx="125.34" cy="291.60" r="1.70" stroke="#FF0000" fill="none"/>
<circle cx="130.34" cy="291.60" r="1.70" stroke="#FF0000" fill="none"/>
<circle cx="135.33" cy="291.60" r="1.70" stroke="#FF0000" fill="none"/>
<circle cx="140.32" cy="291.60" r="1.70" stroke="#FF0000" fill="none"/>
<circle cx="145.32" cy="291.60" r="1.70" stroke="#FF0000" fill="none"/>
<circle cx="150.31" cy="291.60" r="1.70" stroke="#FF0000" fill="none"/>
<circle cx="155.30" cy="291.60" r="1.70" stroke="#FF0000" fill="none"/>
<circle cx="160.30" cy="291.60" r="1.70" stroke="#FF0000" fill="none"/>
<circle cx="165.29" cy="291.60" r="1.70" stroke="#FF0000" fill="none"/>
<circle cx="170.28" cy="291.60" r="1.70" stroke="#FF0000" fill="none"/>
<circle cx="175.27" cy="291.60" r="1.70" stroke="#FF0000" fill="none"/>
<circle cx="180.27" cy="291.60" r="1.70" stroke="#FF0000" fill="none"/>
<circle cx="185.26" cy="291.60" r="1.70" stroke="#FF0000" fill="none"/>
<circle cx="190.25" cy="291.60" r="1.70" stroke="#FF0000" fill="none"/>
<circle cx="195.25" cy="291.60" r="1.70" stroke="#FF0000" fill="none"/>
<circle cx="200.24" cy="291.60" r="1.70" stroke="#FF0000" fill="none"/>
<circle cx="205.23" cy="291.60" r="1.70" stroke="#FF0000" fill="none"/>
<circle cx="210.23" cy="291.60" r="1.70" stroke="#FF0000" fill="none"/>
<circle cx="215.22" cy="291.60" r="1.70" stroke="#FF0000" fill="none"/>
<circle cx="220.21" cy="291.60" r="1.70" stroke="#FF0000" fill="none"/>
<circle cx="225.20" cy="291.60" r="1.70" stroke="#FF0000" fill="none"/>
<circle cx="230.20" cy="291.60" r="1.70" stroke="#FF0000" fill="none"/>
<circle cx="235.19" cy="291.60" r="1.70" stroke="#FF0000" fill="none"/>
<circle cx="240.18" cy="291.60" r="1.70" stroke="#FF0000" fill="none"/>
<circle cx="245.18" cy="291.60" r="1.70" stroke="#FF0000" fill="none"/>
<circle cx="250.17" cy="291.60" r="1.70" stroke="#FF0000" fill="none"/>
<circle cx="255.16" cy="291.60" r="1.70" stroke="#FF0000" fill="none"/>
<circle cx="260.16" cy="291.60" r="1.70" stroke="#FF0000" fill="none"/>
<circle cx="265.15" cy="291.60" r="1.70" stroke="#FF0000" fill="none"/>
<circle cx="270.14" cy="291.60" r="1.70" stroke="#FF0000" fill="none"/>
<circle cx="275.13" cy="291.60" r="1.70" stroke="#FF0000" fill="none"/>
<circle cx="280.13" cy="291.60" r="1.70" stroke="#FF0000" fill="none"/>
<circle cx="285.12" cy="291.60" r="1.70" stroke="#FF0000" fill="none"/>
<circle cx="290.11" cy="291.60" r="1.70" stroke="#FF0000" fill="none"/>
<circle cx="295.11" cy="291.60" r="1.70" stroke="#FF0000" fill="none"/>
<circle cx="300.10" cy="291.60" r="1.70" stroke="#FF0000" fill="none"/>
<circle cx="305.09" cy="291.60" r="1.70" stroke="#FF0000" fill="none"/>
<circle cx="310.09" cy="219.94" r="1.70" stroke="#FF0000" fill="none"/>
<circle cx="315.08" cy="214.41" r="1.70" stroke="#FF0000" fill="none"/>
<circle cx="320.07" cy="209.50" r="1.70" stroke="#FF0000" fill="none"/>
<circle cx="325.06" cy="204.72" r="1.70" stroke="#FF0000" fill="none"/>
<circle cx="330.06" cy="199.94" r="1.70" stroke="#FF0000" fill="none"/>
<circle cx="335.05" cy="195.28" r="1.70" stroke="#FF0000" fill="none"/>
<circle cx="340.04" cy="190.60" r="1.70" stroke="#FF0000" fill="none"/>
<circle cx="345.04" cy="186.20" r="1.70" stroke="#FF0000" fill="none"/>
<circle cx="350.03" cy="182.00" r="1.70" stroke="#FF0000" fill="none"/>
<circle cx="355.02" cy="177.48" r="1.70" stroke="#FF0000" fill="none"/>
<circle cx="360.01" cy="173.00" r="1.70" stroke="#FF0000" fill="none"/>
<circle cx="365.01" cy="168.89" r="1.70" stroke="#FF0000" fill="none"/>
<circle cx="370.00" cy="164.90" r="1.70" stroke="#FF0000" fill="none"/>
<circle cx="374.99" cy="160.82" r="1.70" stroke="#FF0000" fill="none"/>
<circle cx="379.99" cy="156.90" r="1.70" stroke="#FF0000" fill="none"/>
<circle cx="384.98" cy="153.40" r="1.70" stroke="#FF0000" fill="none"/>
<circle cx="389.97" cy="149.95" r="1.70" stroke="#FF0000" fill="none"/>
<circle cx="394.97" cy="146.45" r="1.70" stroke="#FF0000" fill="none"/>
<circle cx="399.96" cy="142.80" r="1.70" stroke="#FF0000" fill="none"/>
<circle cx="404.95" cy="139.20" r="1.70" stroke="#FF0000" fill="none"/>
<circle cx="409.95" cy="135.60" r="1.70" stroke="#FF0000" fill="none"/>
<circle cx="414.94" cy="132.10" r="1.70" stroke="#FF0000" fill="none"/>
<circle cx="419.93" cy="128.90" r="1.70" stroke="#FF0000" fill="none"/>
<circle cx="424.92" cy="125.80" r="1.70" stroke="#FF0000" fill="none"/>
<circle cx="429.92" cy="122.60" r="1.70" stroke="#FF0000" fill="none"/>
<circle cx="434.91" cy="119.30" r="1.70" stroke="#FF0000" fill="none"/>
<circle cx="439.90" cy="116.00" r="1.70" stroke="#FF0000" fill="none"/>
<circle cx="444.90" cy="113.00" r="1.70" stroke="#FF0000" fill="none"/>
<circle cx="449.89" cy="110.00" r="1.70" stroke="#FF0000" fill="none"/>
</g>
<g stroke-width="0.85">
<text transform="translate(160.50 66.15) scale(0.94 1)" text-anchor="end">SL: λ = 3.5</text>
<path d="M169.2 61.05H204.7" stroke="#FFB92D" fill="none"/>
<path d="M185.30 61.05H188.50M186.90 59.45V62.65" stroke="#FFB92D" fill="none"/>
<text transform="translate(160.50 79.42) scale(0.94 1)" text-anchor="end">SL: λ = 3.0</text>
<path d="M169.2 74.32H204.7" stroke="#2E8B57" fill="none"/>
<path d="M184.90 72.32L188.90 76.32M184.90 76.32L188.90 72.32" stroke="#2E8B57" fill="none"/>
<text transform="translate(160.50 92.69) scale(0.94 1)" text-anchor="end">SL: λ = 2.5</text>
<path d="M169.2 87.59H204.7" stroke="#9400D3" fill="none"/>
<path d="M184.90 87.59H188.90M186.90 85.59V89.59M184.90 85.59L188.90 89.59M184.90 89.59L188.90 85.59" stroke="#9400D3" fill="none"/>
<text transform="translate(160.50 105.96) scale(0.94 1)" text-anchor="end">BL: λ = 3.5</text>
<path d="M169.2 100.86H204.7" stroke="#0000FF" fill="none"/>
<rect x="185.20" y="99.16" width="3.40" height="3.40" stroke="#0000FF" fill="none"/>
<text transform="translate(160.50 119.23) scale(0.94 1)" text-anchor="end">BL: λ = 3.0</text>
<path d="M169.2 114.13H204.7" stroke="#000000" fill="none"/>
<rect x="185.20" y="112.43" width="3.40" height="3.40" stroke="none" fill="#000000"/>
<text transform="translate(160.50 132.50) scale(0.94 1)" text-anchor="end">BL: λ = 2.5</text>
<path d="M169.2 127.40H204.7" stroke="#FF0000" fill="none"/>
<circle cx="186.90" cy="127.40" r="1.70" stroke="#FF0000" fill="none"/>
</g>
<g stroke="#000" stroke-width="1" fill="none">
<path d="M129.47 291.5V287.0M129.47 14.5V19.0"/>
<path d="M175.69 291.5V287.0M175.69 14.5V19.0"/>
<path d="M221.91 291.5V287.0M221.91 14.5V19.0"/>
<path d="M268.12 291.5V287.0M268.12 14.5V19.0"/>
<path d="M314.34 291.5V287.0M314.34 14.5V19.0"/>
<path d="M360.56 291.5V287.0M360.56 14.5V19.0"/>
<path d="M406.78 291.5V287.0M406.78 14.5V19.0"/>
<path d="M83.25 251.93H87.75M453.0 251.93H448.5"/>
<path d="M83.25 212.36H87.75M453.0 212.36H448.5"/>
<path d="M83.25 172.79H87.75M453.0 172.79H448.5"/>
<path d="M83.25 133.21H87.75M453.0 133.21H448.5"/>
<path d="M83.25 93.64H87.75M453.0 93.64H448.5"/>
<path d="M83.25 54.07H87.75M453.0 54.07H448.5"/>
<rect x="83.25" y="14.5" width="369.75" height="277.0"/></g>
<g><text transform="translate(84.75 310.40) scale(0.94 1)" text-anchor="middle">1</text><text transform="translate(130.97 310.40) scale(0.94 1)" text-anchor="middle">1.5</text><text transform="translate(177.19 310.40) scale(0.94 1)" text-anchor="middle">2</text><text transform="translate(223.41 310.40) scale(0.94 1)" text-anchor="middle">2.5</text><text transform="translate(269.62 310.40) scale(0.94 1)" text-anchor="middle">3</text><text transform="translate(315.84 310.40) scale(0.94 1)" text-anchor="middle">3.5</text><text transform="translate(362.06 310.40) scale(0.94 1)" text-anchor="middle">4</text><text transform="translate(408.28 310.40) scale(0.94 1)" text-anchor="middle">4.5</text><text transform="translate(454.50 310.40) scale(0.94 1)" text-anchor="middle">5</text><text transform="translate(75.30 296.20) scale(0.94 1)" text-anchor="end">0</text><text transform="translate(75.30 256.63) scale(0.94 1)" text-anchor="end">0.05</text><text transform="translate(75.30 217.06) scale(0.94 1)" text-anchor="end">0.1</text><text transform="translate(75.30 177.49) scale(0.94 1)" text-anchor="end">0.15</text><text transform="translate(75.30 137.91) scale(0.94 1)" text-anchor="end">0.2</text><text transform="translate(75.30 98.34) scale(0.94 1)" text-anchor="end">0.25</text><text transform="translate(75.30 58.77) scale(0.94 1)" text-anchor="end">0.3</text><text transform="translate(75.30 19.20) scale(0.94 1)" text-anchor="end">0.35</text></g>
<text transform="translate(268.00 329.70) scale(0.94 1)" text-anchor="middle" style="font-size:17.6px">U/t</text>
<text transform="translate(10.40 156.70) scale(0.94 1)" text-anchor="start" style="font-size:18px">m</text>
<text transform="translate(23.30 161.70) scale(0.94 1)" text-anchor="start">1</text>
<path d="M8.75 146V157M31.4 146V157" stroke="#000" stroke-width="1" fill="none"/>
</svg>
</body></html>
